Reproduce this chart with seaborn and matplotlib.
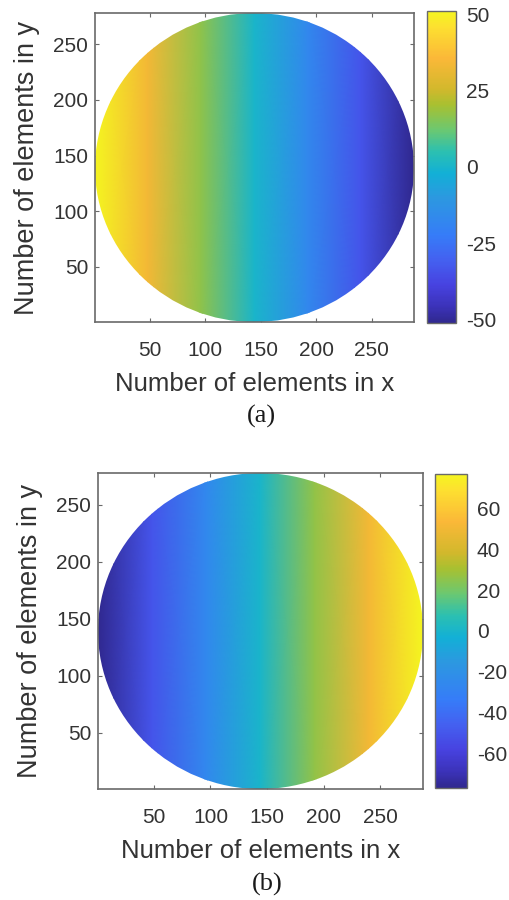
import numpy as np
import seaborn as sns
import matplotlib.pyplot as plt
from matplotlib.colors import LinearSegmentedColormap
from matplotlib.patches import Ellipse

# %% Data

# element index in x where the phase was sampled
x_samples = [0.5, 48, 96, 144, 192, 240, 287.5]
# phase (deg) across the aperture, panel (a) and (b)
phase_a = [51, 34, 17, 0, -17, -34, -51]
phase_b = [-77, -51, -26, 0, 26, 51, 77]
# colour limits of the colorbars
clim_a = [-51.3, 51.3]
clim_b = [-77, 77]
# tick labels
xticks = [50, 100, 150, 200, 250]
yticks = [50, 100, 150, 200, 250]
cticks_a = [-50, -25, 0, 25, 50]
cticks_b = [-60, -40, -20, 0, 20, 40, 60]
# axes extent in elements
xlim = [0.5, 288]
ylim = [0.5, 278]

# parula-like anchors, picked off the reference colorbar
lst_parula = [(0.00, '#30288f'), (0.05, '#3b32b8'), (0.12, '#4742e0'),
              (0.20, '#4460f0'), (0.28, '#367cf8'), (0.40, '#2c98e0'),
              (0.48, '#12b0d6'), (0.55, '#2cc0b0'), (0.62, '#6cc870'),
              (0.70, '#a8c030'), (0.75, '#d2b82c'), (0.85, '#fbb838'),
              (0.95, '#fde030'), (1.00, '#f5f520')]
cmap = LinearSegmentedColormap.from_list('parula', lst_parula, N=256)

# %% Plot

sns.set_theme(style='white')
plt.rcParams['font.family'] = ['Liberation Sans', 'DejaVu Sans']
plt.rcParams['axes.unicode_minus'] = False
txt_col = '#333333'
frm_col = '#6a6a6a'

fig = plt.figure(figsize=(5.09, 9.0), dpi=100)


def draw_panel(ax_pos, cax_pos, vals, clim, cticks, tag, tag_y):
    ax = fig.add_axes(ax_pos)
    cax = fig.add_axes(cax_pos)
    # two rows are enough, the field only varies along x
    arr_x, arr_y = np.meshgrid(x_samples, ylim)
    arr_v = np.vstack([vals, vals])
    mesh = ax.pcolormesh(arr_x, arr_y, arr_v, cmap=cmap, shading='gouraud',
                         vmin=clim[0], vmax=clim[1])
    # circular aperture
    disc = Ellipse(((xlim[0] + xlim[1]) / 2, (ylim[0] + ylim[1]) / 2),
                   xlim[1] - xlim[0], ylim[1] - ylim[0],
                   transform=ax.transData, facecolor='none', edgecolor='none')
    ax.add_patch(disc)
    mesh.set_clip_path(disc)
    ax.set_xlim(xlim)
    ax.set_ylim(ylim)
    ax.set_xticks(xticks)
    ax.set_yticks(yticks)
    ax.tick_params(direction='in', length=3, width=0.8, colors=frm_col,
                   labelcolor=txt_col, labelsize=15, top=True, right=True,
                   bottom=True, left=True)
    ax.tick_params(axis='x', pad=14)
    ax.tick_params(axis='y', pad=5)
    for sp in ax.spines.values():
        sp.set_color(frm_col)
        sp.set_linewidth(1.2)
    ax.set_xlabel('Number of elements in x', fontsize=18.5, color=txt_col,
                  labelpad=8)
    ax.set_ylabel('Number of elements in y', fontsize=19.5, color=txt_col,
                  labelpad=9)
    cb = fig.colorbar(mesh, cax=cax, ticks=cticks)
    cb.outline.set_edgecolor(frm_col)
    cb.outline.set_linewidth(1.0)
    cax.tick_params(direction='in', length=3, colors=frm_col,
                    labelcolor=txt_col, labelsize=15, pad=7)
    fig.text(ax_pos[0] + ax_pos[2] / 2 + 0.013, tag_y, tag, ha='center',
             va='center', fontsize=19, family='Liberation Serif',
             color='#1a1a1a')


draw_panel([0.1866, 0.6422, 0.6267, 0.3433],
           [0.8389, 0.6411, 0.0570, 0.3467],
           phase_a, clim_a, cticks_a, '(a)', 1 - 416 / 900)
draw_panel([0.1925, 0.1233, 0.6385, 0.3511],
           [0.8546, 0.1244, 0.0629, 0.3490],
           phase_b, clim_b, cticks_b, '(b)', 1 - 884 / 900)

fig.savefig('out.png', dpi=100)
